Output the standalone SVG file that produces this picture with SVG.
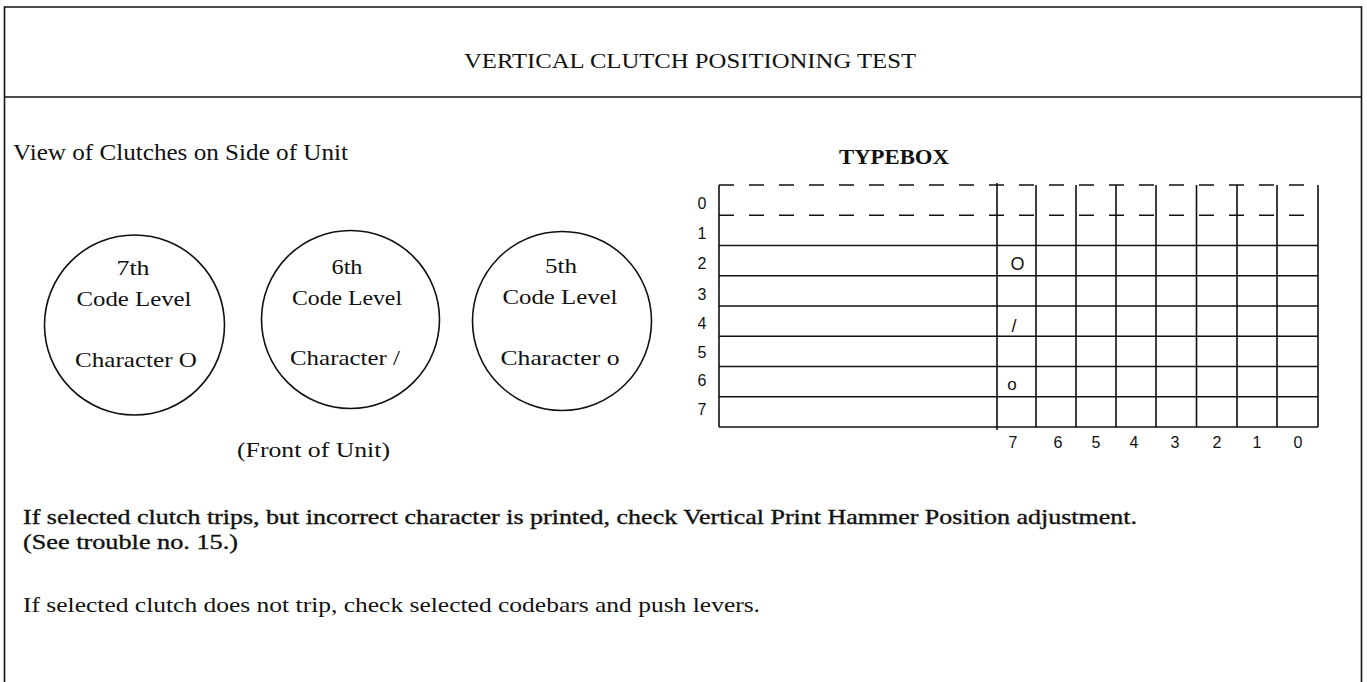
<svg xmlns="http://www.w3.org/2000/svg" width="1367" height="682" viewBox="0 0 1367 682">
<style>
.frame{stroke:#111;stroke-width:1.6;fill:none}
.t{font-family:"Liberation Serif","Times New Roman",serif;fill:#111}
.c{fill:none;stroke:#111;stroke-width:1.6}
.g{stroke:#111;stroke-width:1.6;fill:none}
.d{stroke:#111;stroke-width:1.6;stroke-dasharray:15 15;fill:none}
.lbl{font-family:"Liberation Sans",Arial,sans-serif;font-size:16px;fill:#111;text-anchor:middle}
.ct{text-anchor:middle;font-size:21px}
.semi{stroke:#111;stroke-width:0.35}
</style>
<rect width="1367" height="682" fill="#fff"/>
<g id="frame">
<path class="frame" d="M4.5 682 V7 H1361.5 V682 M4.5 97 H1361.5"/>
</g>
<g id="title">
<text class="t" x="464" y="67.5" font-size="22" textLength="452" lengthAdjust="spacingAndGlyphs">VERTICAL CLUTCH POSITIONING TEST</text>
</g>
<g id="view-label">
<text class="t" x="13" y="160" font-size="23" textLength="335" lengthAdjust="spacingAndGlyphs">View of Clutches on Side of Unit</text>
</g>
<g id="clutch-7">
<circle class="c" cx="134.5" cy="325" r="90"/>
<text class="t ct" x="133" y="275" textLength="33" lengthAdjust="spacingAndGlyphs">7th</text>
<text class="t ct" x="134" y="306" textLength="115" lengthAdjust="spacingAndGlyphs">Code Level</text>
<text class="t ct" x="136" y="366.5" textLength="122" lengthAdjust="spacingAndGlyphs">Character O</text>
</g>
<g id="clutch-6">
<circle class="c" cx="350.5" cy="319.5" r="89"/>
<text class="t ct" x="347" y="273.5" textLength="31" lengthAdjust="spacingAndGlyphs">6th</text>
<text class="t ct" x="347" y="305" textLength="110" lengthAdjust="spacingAndGlyphs">Code Level</text>
<text class="t ct" x="345" y="365" textLength="110" lengthAdjust="spacingAndGlyphs">Character /</text>
</g>
<g id="clutch-5">
<circle class="c" cx="562" cy="321" r="89.5"/>
<text class="t ct" x="561" y="272.5" textLength="32" lengthAdjust="spacingAndGlyphs">5th</text>
<text class="t ct" x="560" y="303.5" textLength="115" lengthAdjust="spacingAndGlyphs">Code Level</text>
<text class="t ct" x="560" y="365" textLength="119" lengthAdjust="spacingAndGlyphs">Character o</text>
</g>
<g id="front-label">
<text class="t" x="237" y="457" font-size="21" textLength="153" lengthAdjust="spacingAndGlyphs">(Front of Unit)</text>
</g>
<g id="typebox">
<text class="t" x="839" y="164" font-size="22" font-weight="bold" textLength="110" lengthAdjust="spacingAndGlyphs">TYPEBOX</text>
<path class="d" d="M719 185 H1318 M719 215.3 H1318"/>
<path class="g" d="M719 245.5 H1318 M719 275.8 H1318 M719 306 H1318 M719 336.3 H1318 M719 366.5 H1318 M719 396.8 H1318 M719 427 H1318"/>
<path class="g" d="M719 185 V427 M997 183 V430 M1036 185 V427 M1076 185 V427 M1116 185 V427 M1156 185 V427 M1196.5 185 V427 M1237 185 V427 M1277 185 V427 M1318 185 V427"/>
<g class="lbl">
<text x="702" y="209">0</text>
<text x="702" y="239">1</text>
<text x="702" y="269">2</text>
<text x="702" y="300">3</text>
<text x="702" y="329">4</text>
<text x="702" y="358">5</text>
<text x="702" y="386">6</text>
<text x="702" y="415">7</text>
<text x="1013" y="447.5">7</text>
<text x="1058" y="447.5">6</text>
<text x="1096" y="447.5">5</text>
<text x="1134" y="447.5">4</text>
<text x="1175" y="447.5">3</text>
<text x="1217" y="447.5">2</text>
<text x="1257" y="447.5">1</text>
<text x="1298" y="447.5">0</text>
</g>
<g class="lbl">
<text x="1017.5" y="269.5" style="font-size:18px">O</text>
<text x="1014" y="331.5" style="font-size:18px">/</text>
<text x="1012" y="390" style="font-size:17px">o</text>
</g>
</g>
<g id="notes">
<text class="t semi" x="23" y="524" font-size="21" textLength="1114" lengthAdjust="spacingAndGlyphs">If selected clutch trips, but incorrect character is printed, check Vertical Print Hammer Position adjustment.</text>
<text class="t semi" x="23" y="549" font-size="21" textLength="215" lengthAdjust="spacingAndGlyphs">(See trouble no. 15.)</text>
<text class="t" x="23" y="612" font-size="21" textLength="737" lengthAdjust="spacingAndGlyphs">If selected clutch does not trip, check selected codebars and push levers.</text>
</g>
</svg>
